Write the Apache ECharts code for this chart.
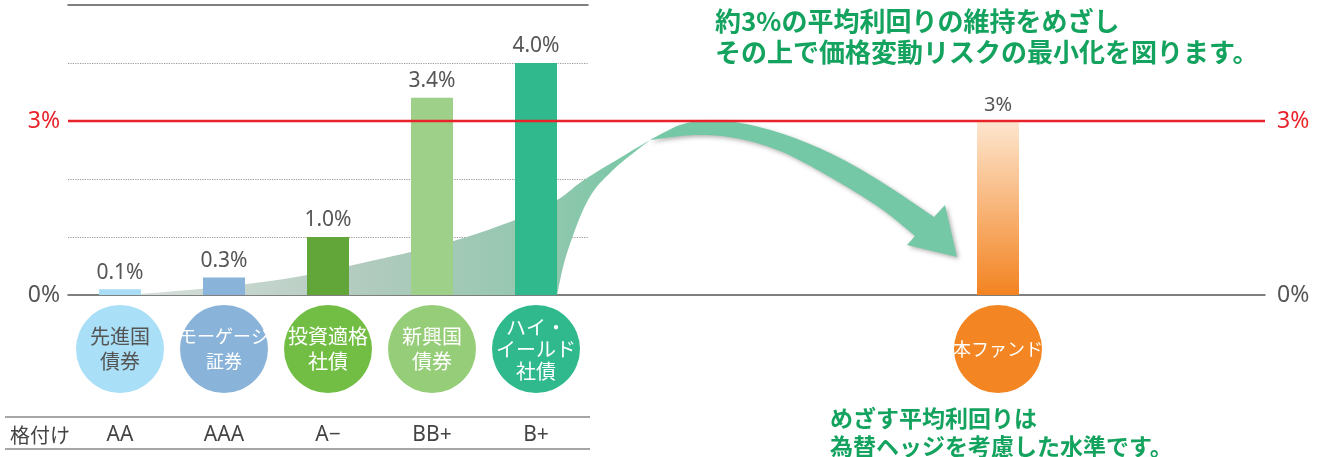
<!DOCTYPE html>
<html>
<head>
<meta charset="utf-8">
<title>平均利回り比較</title>
<script src="https://cdn.jsdelivr.net/npm/echarts@6/dist/echarts.min.js"></script>
<style>
    html, body{
        margin: 0;
        padding: 0;
        background-color: #fff;
    }
    #chart{
        width: 1322px;
        height: 457px;
    }
</style>
</head>
<body>
<div id="chart"></div>
<script>
    // データ
    var bondNames = ['先進国\n債券', 'モーゲージ\n証券', '投資適格\n社債', '新興国\n債券', 'ハイ・\nイールド\n社債'];
    var bondYields = [0.1, 0.3, 1.0, 3.4, 4.0];
    var ratings = ['AA', 'AAA', 'A−', 'BB+', 'B+'];
    var ratingTitle = '格付け';
    var fundNames = ['本ファンド'];
    var fundYields = [3];
    var targetYield = 3;
    var axisTicks = [0, 3];

    // 色
    var barColors = ['#a9ddf5', '#8ab3da', '#62a63a', '#9fd08a', '#2fb98c'];
    var circleColors = ['#a9dff7', '#8ab3da', '#72be44', '#96cd78', '#2fb98c'];
    var circleText = ['#555', '#fff', '#fff', '#fff', '#fff'];
    var red = '#e8232a';
    var gray = '#555';
    var green = '#14a35e';
    var numFont = "'Noto Sans', 'Noto Sans CJK JP', sans-serif";
    var jpFont = "'Noto Sans CJK JP', sans-serif";

    var myChart = echarts.init(document.getElementById('chart'));

    function pctLabel(v){
        return axisTicks.indexOf(Number(v)) >= 0 ? v + '%' : '';
    }
    function pctColor(v){
        return Number(v) === targetYield ? red : gray;
    }

    var option = {
        animation: false,
        grid: [
            {left: 68, top: 5, width: 520, height: 290},   // 債券
            {left: 68, top: 5, width: 1197, height: 290},  // 全幅（0%線・3%線）
            {left: 946, top: 5, width: 104, height: 290},  // 本ファンド
            {left: 68, top: 305, width: 520, height: 88},  // 債券の丸
            {left: 946, top: 305, width: 104, height: 88}  // 本ファンドの丸
        ],
        xAxis: [
            {gridIndex: 0, type: 'category', data: bondNames, axisLine: {show: false}, axisTick: {show: false}, axisLabel: {show: false}},
            {gridIndex: 0, type: 'category', position: 'top', data: bondNames,
                axisLine: {show: true, lineStyle: {color: gray, width: 1.5}}, axisTick: {show: false}, axisLabel: {show: false}},
            {gridIndex: 1, type: 'value', min: 0, max: 1, splitLine: {show: false},
                axisLine: {show: true, onZero: false, lineStyle: {color: gray, width: 1.5}}, axisTick: {show: false}, axisLabel: {show: false}},
            {gridIndex: 2, type: 'category', data: fundNames, show: false},
            {gridIndex: 3, type: 'category', data: ratings, axisLine: {show: false}, axisTick: {show: false},
                axisLabel: {margin: 32, fontSize: 21, color: '#444', fontFamily: numFont}},
            {gridIndex: 4, type: 'category', data: fundNames, show: false}
        ],
        yAxis: [
            {gridIndex: 0, type: 'value', min: 0, max: 5, interval: 1, axisLabel: {show: false}, axisLine: {show: false}, axisTick: {show: false},
                splitLine: {show: true, lineStyle: {type: 'dotted', width: 1.2,
                    color: ['transparent', '#999', '#999', 'transparent', '#999', 'transparent']}}},
            {gridIndex: 1, type: 'value', min: 0, max: 5, interval: 1, position: 'left', splitLine: {show: false},
                axisLine: {show: false}, axisTick: {show: false},
                axisLabel: {margin: 8, fontSize: 23, fontFamily: numFont, formatter: pctLabel, color: pctColor}},
            {gridIndex: 1, type: 'value', min: 0, max: 5, interval: 1, position: 'right', splitLine: {show: false},
                axisLine: {show: false}, axisTick: {show: false},
                axisLabel: {margin: 12, fontSize: 23, fontFamily: numFont, formatter: pctLabel, color: pctColor}},
            {gridIndex: 2, type: 'value', min: 0, max: 5, show: false},
            {gridIndex: 3, type: 'value', min: 0, max: 2, show: false},
            {gridIndex: 4, type: 'value', min: 0, max: 2, show: false}
        ],
        series: [
            {
                type: 'bar', xAxisIndex: 0, yAxisIndex: 0, barWidth: 42,
                data: bondYields,
                itemStyle: {color: function (p) { return barColors[p.dataIndex]; }},
                label: {show: true, position: 'top', distance: 6, fontSize: 21, color: gray, fontFamily: numFont,
                    formatter: function (p) { return p.value.toFixed(1) + '%'; }}
            },
            {
                type: 'bar', xAxisIndex: 3, yAxisIndex: 3, barWidth: 42,
                data: fundYields,
                itemStyle: {color: new echarts.graphic.LinearGradient(0, 0, 0, 1, [
                    {offset: 0, color: '#fde6cf'},
                    {offset: 1, color: '#f38321'}
                ])},
                label: {show: true, position: 'top', distance: 6, fontSize: 20, color: gray, fontFamily: numFont, formatter: '{c}%'}
            },
            {
                // 3%ライン
                type: 'line', xAxisIndex: 2, yAxisIndex: 1, z: 6, symbol: 'none', silent: true,
                data: [[0, targetYield], [1, targetYield]],
                lineStyle: {color: red, width: 2.5}
            },
            {
                type: 'scatter', xAxisIndex: 4, yAxisIndex: 4, symbolSize: 88, silent: true,
                data: bondNames.map(function (n, i) {
                    return {
                        value: 1, name: n,
                        itemStyle: {color: circleColors[i], opacity: 1},
                        label: {color: circleText[i], lineHeight: i === 4 ? 22 : 25, fontSize: i === 1 ? 18 : 20}
                    };
                }),
                label: {show: true, position: 'inside', fontFamily: jpFont, formatter: '{b}'}
            },
            {
                type: 'scatter', xAxisIndex: 5, yAxisIndex: 5, symbolSize: 88, silent: true,
                data: fundNames.map(function (n) { return {value: 1, name: n}; }),
                itemStyle: {color: '#f38522', opacity: 1},
                label: {show: true, position: 'inside', fontFamily: jpFont, fontSize: 18, color: '#fff', formatter: '{b}'}
            }
        ]
    };
    myChart.setOption(option);

    // 矢印（装飾）: 点列をなめらかにつないだ多角形
    function curve(pts){
        var out = [];
        for (var i = 0; i < pts.length - 1; i++) {
            var p0 = pts[i - 1] || pts[i], p1 = pts[i], p2 = pts[i + 1], p3 = pts[i + 2] || p2;
            var c1 = [p1[0] + (p2[0] - p0[0]) / 6, p1[1] + (p2[1] - p0[1]) / 6];
            var c2 = [p2[0] - (p3[0] - p1[0]) / 6, p2[1] - (p3[1] - p1[1]) / 6];
            for (var k = 0; k < 10; k++) {
                var t = k / 10, u = 1 - t;
                out.push([
                    u * u * u * p1[0] + 3 * u * u * t * c1[0] + 3 * u * t * t * c2[0] + t * t * t * p2[0],
                    u * u * u * p1[1] + 3 * u * u * t * c1[1] + 3 * u * t * t * c2[1] + t * t * t * p2[1]
                ]);
            }
        }
        out.push(pts[pts.length - 1]);
        return out;
    }
    var wedge = [[125, 295]]
        .concat(curve([[557, 295], [567, 253], [588, 200], [613, 170], [650, 140]]))
        .concat(curve([[650, 140], [587, 178], [557, 200], [515, 220], [450, 242], [380, 259], [290, 278], [200, 289], [125, 295]]));
    var front = curve([[650, 140], [680, 125], [705, 121], [735, 122], [780, 133], [830, 153], [880, 181], [934, 217]])
        .concat([[945, 205], [957, 257], [907, 245]])
        .concat(curve([[915, 236], [880, 208], [830, 177], [780, 151], [735, 138], [695, 135], [650, 140]]));

    myChart.setOption({
        graphic: [
            {type: 'polygon', z: 1, silent: true, shape: {points: wedge},
                style: {fill: new echarts.graphic.LinearGradient(0, 0, 1, 0, [
                    {offset: 0, color: '#d9e0dc'},
                    {offset: 0.45, color: '#b2cbbf'},
                    {offset: 0.8, color: '#92c7ae'},
                    {offset: 1, color: '#74c8a5'}
                ])}},
            {type: 'polygon', z: 3, silent: true, shape: {points: front},
                style: {fill: '#74c8a5', shadowBlur: 4, shadowOffsetX: 2, shadowOffsetY: 2, shadowColor: 'rgba(0,0,0,0.3)'}},
            {type: 'text', x: 715, y: 6, silent: true,
                style: {text: '約3%の平均利回りの維持をめざし\nその上で価格変動リスクの最小化を図ります。',
                    fill: green, fontSize: 26, fontWeight: 'bold', lineHeight: 31, fontFamily: jpFont}},
            {type: 'text', x: 830, y: 404, silent: true,
                style: {text: 'めざす平均利回りは\n為替ヘッジを考慮した水準です。',
                    fill: green, fontSize: 23, fontWeight: 'bold', lineHeight: 28, fontFamily: jpFont}},
            {type: 'line', silent: true, shape: {x1: 5, y1: 417, x2: 590, y2: 417}, style: {stroke: '#888', lineWidth: 1.5}},
            {type: 'line', silent: true, shape: {x1: 5, y1: 449, x2: 590, y2: 449}, style: {stroke: '#888', lineWidth: 1.5}},
            {type: 'text', x: 10, y: 435, silent: true,
                style: {text: ratingTitle, fill: '#444', fontSize: 20, fontFamily: jpFont, verticalAlign: 'middle'}}
        ]
    });
</script>
</body>
</html>
